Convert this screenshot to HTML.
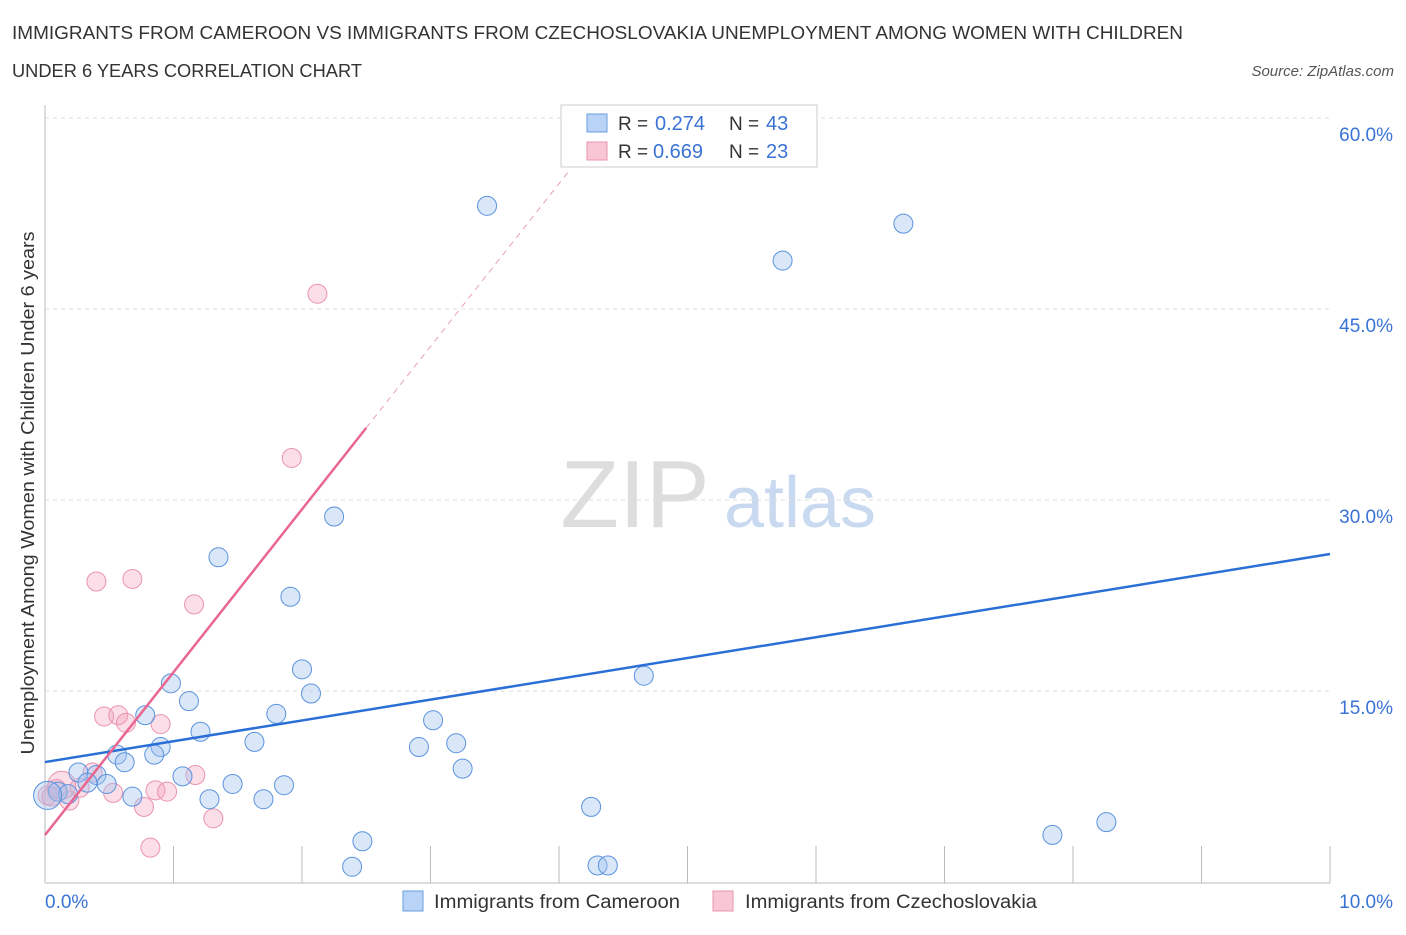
<!DOCTYPE html>
<html><head><meta charset="utf-8"><style>
body{margin:0;background:#fff;font-family:"Liberation Sans",sans-serif;}
svg text{font-family:"Liberation Sans",sans-serif;}
</style></head><body>
<svg width="1406" height="930">
<text x="12" y="39" font-size="18" fill="#333" textLength="1171" lengthAdjust="spacingAndGlyphs">IMMIGRANTS FROM CAMEROON VS IMMIGRANTS FROM CZECHOSLOVAKIA UNEMPLOYMENT AMONG WOMEN WITH CHILDREN</text>
<text x="12" y="77" font-size="18" fill="#333" textLength="350" lengthAdjust="spacingAndGlyphs">UNDER 6 YEARS CORRELATION CHART</text>
<text x="1394" y="76" font-size="15" fill="#555" font-style="italic" text-anchor="end">Source: ZipAtlas.com</text>
<text x="635" y="527" font-size="96" fill="#ddd" font-family="Liberation Serif" text-anchor="middle">ZIP</text>
<text x="800" y="527" font-size="72" fill="#c9daf0" text-anchor="middle">atlas</text>
<g id="grid"></g>
<g id="axes"></g>
<g id="pts"></g>
<g id="lines"></g>
<text transform="translate(34,493) rotate(-90)" font-size="18" fill="#333" text-anchor="middle" textLength="523" lengthAdjust="spacingAndGlyphs">Unemployment Among Women with Children Under 6 years</text>
<text x="45" y="908" font-size="19" fill="#3a73d6">0.0%</text>
<text x="1393" y="908" font-size="19" fill="#3a73d6" text-anchor="end">10.0%</text>
<g>
<rect x="561" y="105" width="256" height="62" fill="#fff" stroke="#ccc"/>
<rect x="587" y="114" width="20" height="18" fill="#b8d3f5" stroke="#6a9de0"/>
<rect x="587" y="142" width="20" height="18" fill="#f9c6d4" stroke="#ea94ae"/>
<text x="618" y="130" font-size="19" fill="#333">R =</text>
<text x="655" y="130" font-size="20" fill="#3a73d6">0.274</text>
<text x="729" y="130" font-size="19" fill="#333">N =</text>
<text x="766" y="130" font-size="20" fill="#3a73d6">43</text>
<text x="618" y="158" font-size="19" fill="#333">R =</text>
<text x="653" y="158" font-size="20" fill="#3a73d6">0.669</text>
<text x="729" y="158" font-size="19" fill="#333">N =</text>
<text x="766" y="158" font-size="20" fill="#3a73d6">23</text>
</g>
<g>
<rect x="403" y="891" width="20" height="20" fill="#b8d3f5" stroke="#6a9de0"/>
<text x="434" y="908" font-size="19" fill="#333" textLength="246" lengthAdjust="spacingAndGlyphs">Immigrants from Cameroon</text>
<rect x="713" y="891" width="20" height="20" fill="#f9c6d4" stroke="#ea94ae"/>
<text x="745" y="908" font-size="19" fill="#333" textLength="292" lengthAdjust="spacingAndGlyphs">Immigrants from Czechoslovakia</text>
</g>
</svg>
<script>
const yTicks=[15,30,45,60];
const yTickLabels=["15.0%","30.0%","45.0%","60.0%"];
const blueX=[3.44,5.74,6.68,2.25,1.35,1.91,2.00,2.07,4.66,0.98,1.12,0.78,1.80,1.21,0.90,1.63,3.02,2.91,3.20,0.56,0.85,0.62,3.25,1.07,0.26,0.40,0.48,0.33,1.46,1.86,0.10,0.18,0.68,1.28,1.70,4.25,7.84,8.26,2.47,2.39,4.30,4.38,0.02];
const blueY=[53.1,48.8,51.7,28.7,25.5,22.4,16.7,14.8,16.2,15.6,14.2,13.1,13.2,11.8,10.6,11.0,12.7,10.6,10.9,10.0,10.0,9.4,8.9,8.3,8.6,8.4,7.7,7.8,7.7,7.6,7.1,6.9,6.7,6.5,6.5,5.9,3.7,4.7,3.2,1.2,1.3,1.3,6.8];
const pinkX=[2.12,1.92,0.40,0.68,1.16,0.46,0.57,0.63,0.90,0.37,0.09,0.19,0.02,0.53,0.86,0.95,1.17,0.77,1.31,0.82,0.13,0.05,0.27];
const pinkY=[46.2,33.3,23.6,23.8,21.8,13.0,13.1,12.5,12.4,8.6,7.3,6.4,6.8,7.0,7.2,7.1,8.4,5.9,5.0,2.7,7.6,6.7,7.4];
const blueFit=[9.42,25.76];
const pinkFit=[3.69,12.79];
const X=v=>45+v*128.5, Y=v=>882-v*191/15;
const NS="http://www.w3.org/2000/svg";
function mk(t,a,p){const e=document.createElementNS(NS,t);for(const k in a)e.setAttribute(k,a[k]);p.appendChild(e);return e;}
const grid=document.getElementById('grid'),axes=document.getElementById('axes'),pts=document.getElementById('pts'),lines=document.getElementById('lines');
const svg=document.querySelector('svg');
yTicks.forEach((t,i)=>{
 const l=mk('line',{x1:45,x2:1330,y1:Y(t),y2:Y(t),stroke:'#ddd','stroke-dasharray':'4,4'},grid);
 
 
 const tx=mk('text',{x:1393,y:Y(t)+23,'font-size':19,fill:'#3a73d6','text-anchor':'end'},svg);
 tx.textContent=yTickLabels[i];
 
 
});
mk('line',{x1:45,x2:45,y1:105,y2:883,stroke:'#bbb'},axes);
mk('line',{x1:45,x2:1330,y1:883,y2:883,stroke:'#bbb'},axes);
for(let i=1;i<=10;i++){mk('line',{x1:X(i),x2:X(i),y1:846,y2:883,stroke:'#bbb'},axes);}
pinkX.forEach((x,i)=>{
 const c=mk('circle',{cx:X(x),cy:Y(pinkY[i]),r:i==pinkX.length-3?14:9.5,fill:'rgba(244,160,185,0.35)',stroke:'#ea94ae','stroke-width':1},pts);
 
 
});
blueX.forEach((x,i)=>{
 const c=mk('circle',{cx:X(x),cy:Y(blueY[i]),r:i==blueX.length-1?14:9.5,fill:'rgba(160,195,240,0.4)',stroke:'#5b93de','stroke-width':1},pts);
 
 
});
const bl=mk('line',{x1:X(0),y1:Y(blueFit[0]),x2:X(10),y2:Y(blueFit[1]),stroke:'#2a6fd6','stroke-width':2.5},lines);


const pe=2.5,pd=4.09;
const pl=mk('line',{x1:X(0),y1:Y(pinkFit[0]),x2:X(pe),y2:Y(pinkFit[0]+pinkFit[1]*pe),stroke:'#e8668f','stroke-width':2.5},lines);


const pdl=mk('line',{x1:X(pe),y1:Y(pinkFit[0]+pinkFit[1]*pe),x2:X(pd),y2:Y(pinkFit[0]+pinkFit[1]*pd),stroke:'#e8a0b5','stroke-width':1,'stroke-dasharray':'6,5'},lines);


</script>
</body></html>
